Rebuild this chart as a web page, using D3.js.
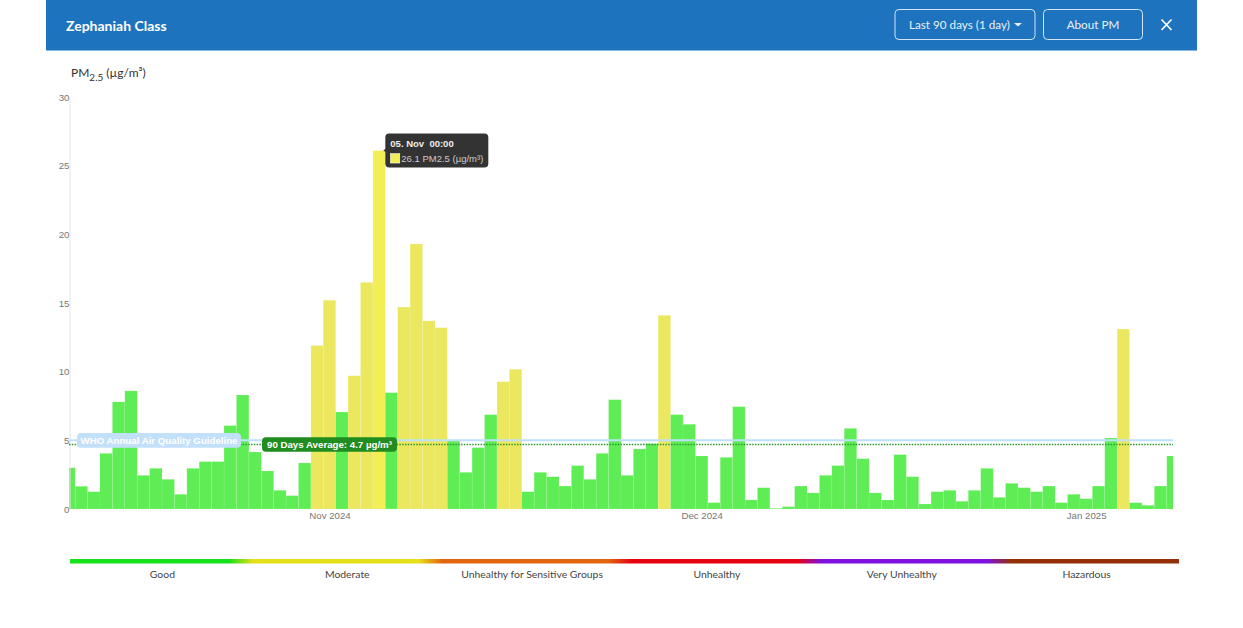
<!DOCTYPE html>
<html>
<head>
<meta charset="utf-8">
<script src="https://cdn.jsdelivr.net/npm/d3@7/dist/d3.min.js"></script>
<style>
  html, body { margin: 0; padding: 0; background: #fff; }
  svg { display: block; }
  .ui { font-family: Lato, sans-serif; }
  .chart text { font-family: "Liberation Sans", Arial, sans-serif; }
</style>
</head>
<body>
<div id="container"></div>
<script>
const startDay = "2024-10-11";
const pmValues = [
  3.0, 1.65, 1.26, 4.05, 7.8, 8.6, 2.45, 2.96, 2.16, 1.07,
  2.96, 3.45, 3.45, 6.07, 8.3, 4.15, 2.77, 1.36, 0.97, 3.35,
  11.9, 15.2, 7.06, 9.7, 16.5, 26.1, 8.47, 14.7, 19.3, 13.7,
  13.2, 4.95, 2.67, 4.47, 6.87, 9.27, 10.17, 1.26, 2.67, 2.35,
  1.67, 3.16, 2.16, 4.05, 7.96, 2.45, 4.37, 4.76, 14.1, 6.87,
  6.17, 3.86, 0.46, 3.76, 7.45, 0.66, 1.55, 0.05, 0.17, 1.67,
  1.17, 2.45, 3.16, 5.87, 3.66, 1.17, 0.66, 3.96, 2.35, 0.36,
  1.26, 1.36, 0.56, 1.36, 2.96, 0.85, 1.87, 1.55, 1.26, 1.67,
  0.46, 1.07, 0.75, 1.67, 5.17, 13.1, 0.46, 0.27, 1.67, 3.86
];
const yTicks = [0, 5, 10, 15, 20, 25, 30];
const xTickDays = ["2024-11-01", "2024-12-01", "2025-01-01"];
const categories = ["Good", "Moderate", "Unhealthy for Sensitive Groups", "Unhealthy", "Very Unhealthy", "Hazardous"];
const categoryColors = ["#17e11a", "#e5e01a", "#e2660f", "#e60012", "#7e0fe0", "#933008"];
const whoGuideline = 5;
const average = 4.7;
const moderateFrom = 9;
const selectedDay = "2024-11-05";

const w = 1243;
const h = 628;
const parseDay = d3.utcParse("%Y-%m-%d");
const days = pmValues.map((d, i) => d3.utcDay.offset(parseDay(startDay), i));

const xScale = d3.scaleUtc()
  .domain([days[0], days[days.length - 1]])
  .range([69, 1173]);
const yScale = d3.scaleLinear()
  .domain([0, 30])
  .range([509, 97]);
const barColor = d3.scaleThreshold()
  .domain([moderateFrom])
  .range(["#5fed55", "#ebe85f"]);

const svg = d3.select("#container").append("svg")
  .attr("width", w)
  .attr("height", h);

// header bar
const header = svg.append("g").attr("class", "ui");
header.append("rect").attr("x", 46).attr("y", 0).attr("width", 1151).attr("height", 50.5).attr("fill", "#1d73bd");
header.append("text").attr("x", 66).attr("y", 30.5).attr("fill", "#fff")
  .attr("font-size", 14).attr("font-weight", 700).text("Zephaniah Class");
header.append("rect").attr("x", 895).attr("y", 9.5).attr("width", 140).attr("height", 30).attr("rx", 4)
  .attr("fill", "none").attr("stroke", "#d3e5f5");
header.append("rect").attr("x", 1043.5).attr("y", 9.5).attr("width", 99).attr("height", 30).attr("rx", 4)
  .attr("fill", "none").attr("stroke", "#d3e5f5");
header.append("text").attr("x", 909).attr("y", 29).attr("fill", "#e8f1f9").attr("font-size", 11.7).text("Last 90 days (1 day)");
header.append("path").attr("d", "M1014 23h8l-4 3.5z").attr("fill", "#e8f1f9");
header.append("text").attr("x", 1093).attr("y", 29).attr("text-anchor", "middle").attr("fill", "#e8f1f9")
  .attr("font-size", 11.7).text("About PM");
header.append("path").attr("d", "M1161.5 19.5l10 10.5M1171.5 19.5l-10 10.5")
  .attr("stroke", "#fff").attr("stroke-width", 1.7).attr("fill", "none");

const yTitle = header.append("text").attr("x", 71).attr("y", 77).attr("fill", "#333").attr("font-size", 12);
yTitle.append("tspan").text("PM");
yTitle.append("tspan").attr("dy", 4).attr("font-size", 10).text("2.5");
yTitle.append("tspan").attr("dy", -4).attr("dx", 3).text("(µg/m³)");

// chart
const chart = svg.append("g").attr("class", "chart");
chart.append("clipPath").attr("id", "plot")
  .append("rect").attr("x", 69).attr("y", 90).attr("width", 1104).attr("height", 420);

const barW = xScale(days[1]) - xScale(days[0]);
chart.append("g").attr("clip-path", "url(#plot)")
  .selectAll("rect")
  .data(pmValues)
  .enter()
  .append("rect")
  .attr("x", (d, i) => xScale(days[i]) - barW / 2)
  .attr("y", d => yScale(d))
  .attr("width", barW)
  .attr("height", d => yScale(0) - yScale(d))
  .attr("fill", (d, i) => +days[i] === +parseDay(selectedDay) ? "#f3ee55" : barColor(d))
  .attr("stroke", "#fff")
  .attr("stroke-opacity", 0.15)
  .attr("stroke-width", 0.6);

const yAxis = d3.axisLeft(yScale).tickValues(yTicks).tickSize(0).tickPadding(0);
const yG = chart.append("g").attr("transform", "translate(69.5,0)").call(yAxis);
yG.select(".domain").attr("stroke", "#e6e6e6");
yG.selectAll("text").attr("font-size", 9.7).attr("fill", "#777");

const xAxis = d3.axisBottom(xScale)
  .tickValues(xTickDays.map(parseDay))
  .tickFormat(d3.utcFormat("%b %Y"))
  .tickSize(0)
  .tickPadding(3);
const xG = chart.append("g").attr("transform", "translate(0,509)").call(xAxis);
xG.select(".domain").attr("stroke", "none");
xG.selectAll("text").attr("font-size", 9.7).attr("fill", "#777");

// guideline and average
chart.append("line").attr("x1", 69).attr("x2", 1173)
  .attr("y1", yScale(whoGuideline)).attr("y2", yScale(whoGuideline))
  .attr("stroke", "#bfe0fb").attr("stroke-width", 2);
chart.append("line").attr("x1", 69).attr("x2", 1173)
  .attr("y1", yScale(average)).attr("y2", yScale(average))
  .attr("stroke", "#2a9a28").attr("stroke-width", 1.5).attr("stroke-dasharray", "1.5 1.3");

function pill(x, width, value, fill, label) {
  const cy = yScale(value);
  chart.append("rect").attr("x", x).attr("y", cy - 7.3).attr("width", width).attr("height", 14.6).attr("rx", 4).attr("fill", fill);
  chart.append("text").attr("x", x + width / 2).attr("y", cy + 3.5).attr("text-anchor", "middle")
    .attr("fill", "#fff").attr("font-size", 9.7).attr("font-weight", 700).text(label);
}
pill(77, 164, whoGuideline, "#c3e0fa", "WHO Annual Air Quality Guideline");
pill(262, 135, average, "#218c1f", "90 Days Average: " + average + " µg/m³");

// tooltip
const sel = days.findIndex(d => +d === +parseDay(selectedDay));
const tipX = xScale(days[sel]) + barW / 2;
const tipY = yScale(pmValues[sel]);
const tip = chart.append("g");
tip.append("path")
  .attr("d", `M${tipX - 2},${tipY} L${tipX + 6},${tipY - 6} V${tipY + 5} Z`)
  .attr("fill", "#333");
tip.append("rect").attr("x", tipX).attr("y", tipY - 17).attr("width", 103).attr("height", 34).attr("rx", 4).attr("fill", "#333");
tip.append("text").attr("x", tipX + 5).attr("y", tipY - 4).attr("fill", "#eee")
  .attr("font-size", 9.5).attr("font-weight", 700).text("05. Nov\u00a0\u00a000:00");
tip.append("rect").attr("x", tipX + 5).attr("y", tipY + 3).attr("width", 9.5).attr("height", 9.5)
  .attr("fill", "#f3ee55").attr("stroke", "#fff").attr("stroke-width", 0.5);
tip.append("text").attr("x", tipX + 16).attr("y", tipY + 11).attr("fill", "#ccc")
  .attr("font-size", 9.5).text(pmValues[sel] + " PM2.5 (µg/m³)");

// colour legend, the hues change a little ahead of the label slots
const legendX = d3.scaleBand().domain(categories).range([70, 1179]);
const defs = svg.append("defs");
const grad = defs.append("linearGradient").attr("id", "aqi").attr("x1", 0).attr("x2", 1).attr("y1", 0).attr("y2", 0);
const firstChange = 241;
const changeStep = 189.5;
const fade = 12;
categories.forEach((c, i) => {
  const a = i ? firstChange + (i - 1) * changeStep + fade : 70;
  const b = i < categories.length - 1 ? firstChange + i * changeStep - fade : 1179;
  [a, b].forEach(px => {
    grad.append("stop").attr("offset", (px - 70) / (1179 - 70)).attr("stop-color", categoryColors[i]);
  });
});
const legend = svg.append("g").attr("class", "ui");
legend.append("rect").attr("x", 70).attr("y", 559).attr("width", 1109).attr("height", 4.5).attr("fill", "url(#aqi)");
legend.selectAll("text")
  .data(categories)
  .enter()
  .append("text")
  .attr("x", d => legendX(d) + legendX.bandwidth() / 2)
  .attr("y", 578)
  .attr("text-anchor", "middle")
  .attr("font-size", 10.4)
  .attr("fill", "#444")
  .text(d => d);
</script>
</body>
</html>
